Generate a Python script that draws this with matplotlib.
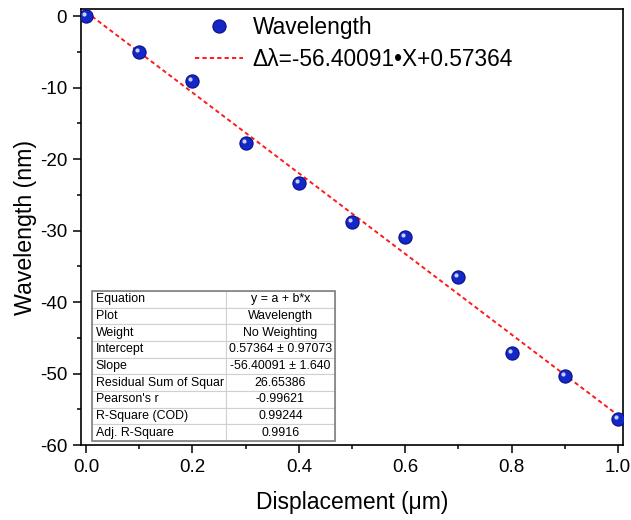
import numpy as np
import matplotlib
matplotlib.use('Agg')
import matplotlib.pyplot as plt
from matplotlib.lines import Line2D
from matplotlib.transforms import ScaledTranslation
from matplotlib.ticker import MultipleLocator

plt.rcParams['font.family'] = ['Liberation Sans', 'DejaVu Sans']
plt.rcParams['axes.unicode_minus'] = False

# measured shift vs displacement
disp = [0.0, 0.1, 0.2, 0.3, 0.4, 0.5, 0.6, 0.7, 0.8, 0.9, 1.0]
wavelength = [0.0, -5.08, -9.05, -17.8, -23.4, -28.8, -30.9, -36.5, -47.2, -50.4, -56.4]

# linear fit coefficients
fit_a = 0.57364
fit_b = -56.40091
fit_label = "\u0394\u03bb=-56.40091\u2022X+0.57364"

stats_keys = ["Equation", "Plot", "Weight", "Intercept", "Slope",
              "Residual Sum of Squar", "Pearson's r", "R-Square (COD)", "Adj. R-Square"]
stats_vals = ["y = a + b*x", "Wavelength", "No Weighting", "0.57364 \u00b1 0.97073",
              "-56.40091 \u00b1 1.640", "26.65386", "-0.99621", "0.99244", "0.9916"]

fig = plt.figure(figsize=(6.31, 5.2), dpi=100)
ax = fig.add_axes([0.1284, 0.1442, 0.8584, 0.8385])

xf = np.array([0.0, 1.0])
ax.plot(xf, fit_a + fit_b * xf, color='#ff1a1a', lw=1.4, dashes=(2.2, 1.6), zorder=2)

# shaded spheres: dark body + small highlight
ax.plot(disp, wavelength, 'o', ms=9.5, mfc='#1428c8', mec='#0a0f8a', mew=0.8, ls='none', zorder=3)
hl = ax.transData + ScaledTranslation(-1.5 / 72, 1.5 / 72, fig.dpi_scale_trans)
ax.plot(disp, wavelength, 'o', ms=3, mfc='#c8d0ff', mec='none', ls='none', transform=hl, zorder=4)

ax.set_xlim(-0.0095, 1.0088)
ax.set_ylim(-60, 0.98)
ax.xaxis.set_major_locator(MultipleLocator(0.2))
ax.xaxis.set_minor_locator(MultipleLocator(0.1))
ax.yaxis.set_major_locator(MultipleLocator(10))
ax.yaxis.set_minor_locator(MultipleLocator(5))
ax.tick_params(which='major', direction='out', length=6, width=1.1, labelsize=13.5, pad=4)
ax.tick_params(which='minor', direction='out', length=3, width=1.1)
ax.tick_params(top=False, right=False, which='both')
ax.xaxis.set_major_formatter(matplotlib.ticker.FormatStrFormatter('%.1f'))
for s in ax.spines.values():
    s.set_linewidth(1.2)

ax.set_xlabel("Displacement (\u03bcm)", fontsize=16.5, labelpad=11)
ax.set_ylabel("Wavelength (nm)", fontsize=16.7, labelpad=2)

handles = [
    Line2D([], [], marker='o', ls='none', ms=9.5, mfc='#1428c8', mec='#0a0f8a', mew=0.8),
    Line2D([], [], color='#ff1a1a', lw=1.4, dashes=(2.2, 1.6)),
]
ax.legend(handles, ["Wavelength", fit_label], loc='upper left',
          bbox_to_anchor=(0.21, 0.984), frameon=False, fontsize=16.4,
          handlelength=2.1, handletextpad=0.44, labelspacing=0.4,
          borderpad=0, borderaxespad=0)

# fit statistics table
cells = [[k, v] for k, v in zip(stats_keys, stats_vals)]
tbl = ax.table(cellText=cells, colWidths=[0.552, 0.448],
               bbox=[0.0198, 0.009, 0.449, 0.344], zorder=5)
tbl.auto_set_font_size(False)
tbl.set_fontsize(8.9)
for (r, c), cell in tbl.get_celld().items():
    cell.set_edgecolor('#d0d0d0')
    cell.set_linewidth(0.8)
    cell.set_facecolor('white')
    cell.get_text().set_ha('left' if c == 0 else 'center')
    cell.PAD = 0.03
frame = plt.Rectangle((0.0198, 0.009), 0.449, 0.344, transform=ax.transAxes,
                      fill=False, ec='#808080', lw=1.2, zorder=6)
ax.add_patch(frame)

fig.savefig('out.png', dpi=100, facecolor='white')
